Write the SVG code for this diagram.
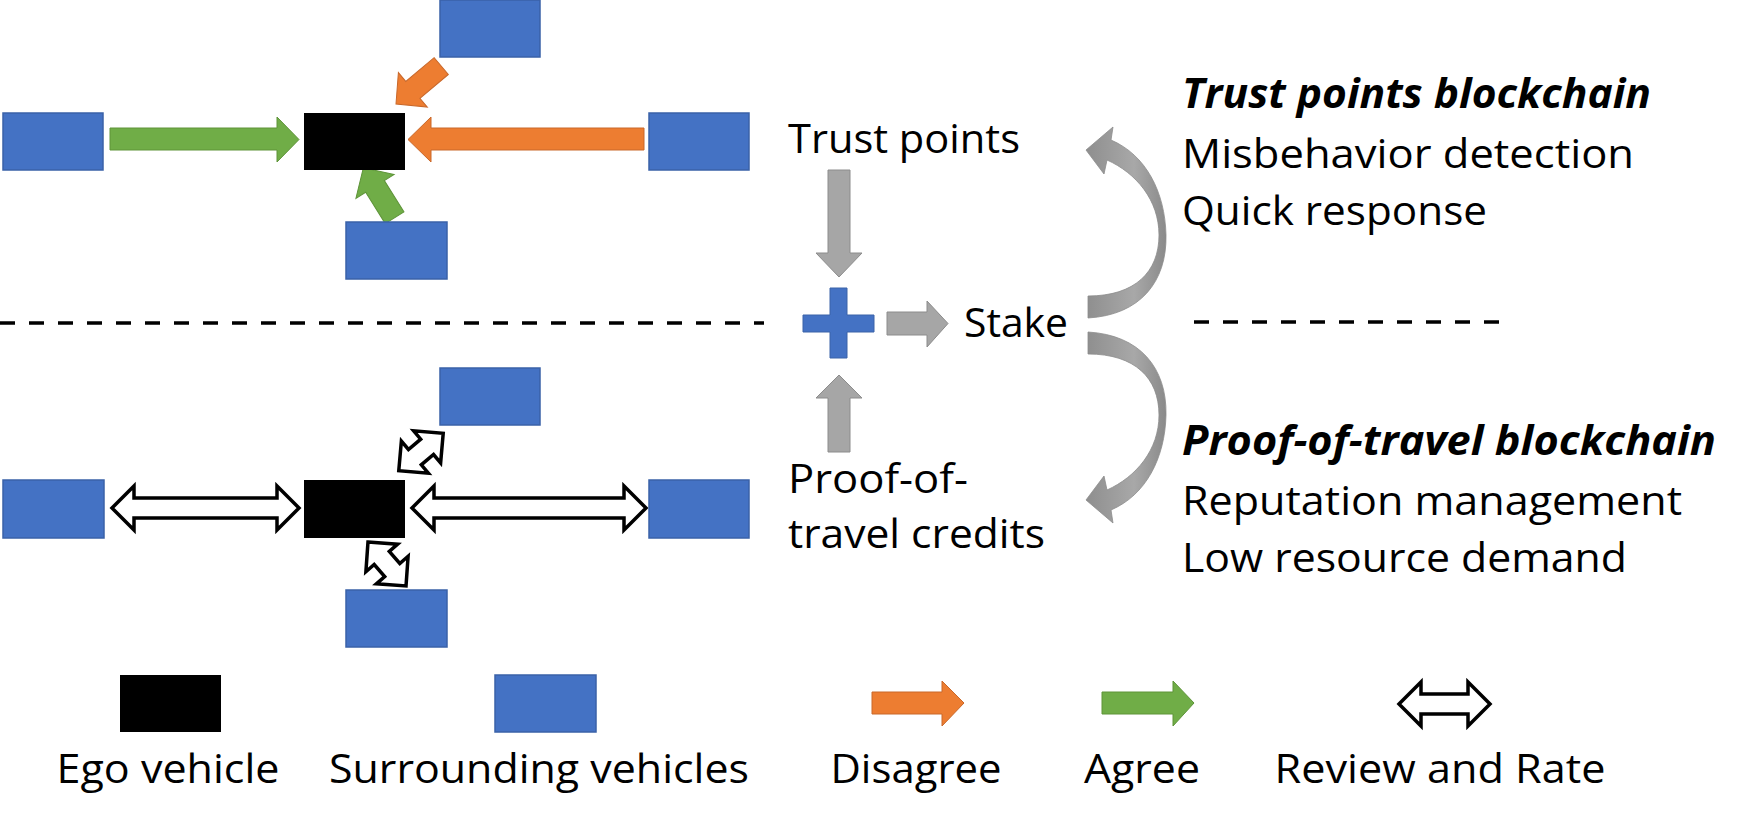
<svg xmlns="http://www.w3.org/2000/svg" width="1748" height="829" viewBox="0 0 1748 829">
<style>
  .veh{fill:#4472C4;stroke:#3A62A8;stroke-width:1.5}
  .ego{fill:#000000}
  .agree{fill:#70AD47;stroke:#5E9439;stroke-width:1}
  .disagree{fill:#ED7D31;stroke:#C9682A;stroke-width:1}
  .rate{fill:#FFFFFF;stroke:#000000;stroke-width:3.5;stroke-linejoin:miter}
  .gray{fill:#A6A6A6;stroke:#8C8C8C;stroke-width:1}
  .curve{fill:url(#cg);stroke:#8C8C8C;stroke-width:0.8}
  .plus{fill:#4472C4;stroke:#3A62A8;stroke-width:1}
  .dash{stroke:#000000;stroke-width:3.5;stroke-dasharray:15 14;fill:none}
  text{font-family:"Open Sans","Noto Sans",sans-serif;font-size:41px;fill:#000000}
  .bi{font-weight:bold;font-style:italic}
  .lg{text-anchor:middle}
</style>
<defs>
  <linearGradient id="cg" x1="0" y1="0" x2="1" y2="0">
    <stop offset="0" stop-color="#8E8E8E"/>
    <stop offset="0.6" stop-color="#A8A8A8"/>
    <stop offset="1" stop-color="#8A8A8A"/>
  </linearGradient>
  <path id="diag1" d="M-59,-11 H-22 V-22.5 L0,0 L-22,22.5 V11 H-59 Z"/>
  <path id="dbl" d="M-29,0 L-8,-21 V-10 H8 V-21 L29,0 L8,21 V10 H-8 V21 Z"/>
</defs>

<g id="connectors">
  <!-- top section: votes -->
  <polygon class="agree" points="110,128 277,128 277,117 299,139.5 277,162 277,150 110,150"/>
  <polygon class="disagree" points="644,128 431,128 431,117 408,139.5 431,162 431,150 644,150"/>
  <use href="#diag1" class="disagree" transform="translate(396,104) rotate(140)"/>
  <use href="#diag1" class="agree" transform="translate(366,172) rotate(-122) translate(5,0)"/>
  <!-- bottom section: review and rate -->
  <path class="rate" d="M112,508 L134,486 V498 H277 V486 L299,508 L277,530 V518 H134 V530 Z"/>
  <path class="rate" d="M412,508 L434,486 V498 H624 V486 L646,508 L624,530 V518 H434 V530 Z"/>
  <use href="#dbl" class="rate" transform="translate(421,452) rotate(-40)"/>
  <use href="#dbl" class="rate" transform="translate(387,564) rotate(49)"/>
  <!-- stake flow -->
  <polygon class="gray" points="828,170 850,170 850,253 862,253 839,277 816,253 828,253"/>
  <polygon class="gray" points="828,452 850,452 850,398 862,398 839,375 816,398 828,398"/>
  <polygon class="gray" points="887,312 927,312 927,301 948,323.5 927,347 927,335 887,335"/>
  <!-- curved arrows -->
  <path id="curveUp" class="curve" d="M1088,318 C1140,315 1167,282 1166,235 C1165,192 1146,155 1111,140 L1113,127 L1086,150 L1104,174 L1107,160 C1136,173 1159,200 1159,235 C1159,272 1135,296 1088,296 Z"/>
  <path id="curveDown" class="curve" transform="translate(0,650) scale(1,-1)" d="M1088,318 C1140,315 1167,282 1166,235 C1165,192 1146,155 1111,140 L1113,127 L1086,150 L1104,174 L1107,160 C1136,173 1159,200 1159,235 C1159,272 1135,296 1088,296 Z"/>
  <!-- separators -->
  <line class="dash" x1="0" y1="323" x2="764" y2="323"/>
  <line class="dash" x1="1194" y1="322" x2="1499" y2="322"/>
</g>

<g id="top-section">
  <rect id="top-left" class="veh" x="3" y="113" width="100" height="57"/>
  <rect id="top-ego" class="ego" x="304" y="113" width="101" height="57"/>
  <rect id="top-up" class="veh" x="440" y="0" width="100" height="57"/>
  <rect id="top-right" class="veh" x="649" y="113" width="100" height="57"/>
  <rect id="top-down" class="veh" x="346" y="222" width="101" height="57"/>
</g>

<g id="bottom-section">
  <rect id="bot-left" class="veh" x="3" y="480" width="101" height="58"/>
  <rect id="bot-ego" class="ego" x="304" y="480" width="101" height="58"/>
  <rect id="bot-up" class="veh" x="440" y="368" width="100" height="57"/>
  <rect id="bot-right" class="veh" x="649" y="480" width="100" height="58"/>
  <rect id="bot-down" class="veh" x="346" y="590" width="101" height="57"/>
</g>

<g id="stake">
  <path id="plus" class="plus" d="M830,288 H847 V315 H874 V332 H847 V358 H830 V332 H803 V315 H830 Z"/>
  <text id="t-trust" x="788" y="153" textLength="232" lengthAdjust="spacingAndGlyphs">Trust points</text>
  <text id="t-stake" x="964" y="337" textLength="104" lengthAdjust="spacingAndGlyphs">Stake</text>
  <text id="t-pot" x="788" y="493" textLength="180" lengthAdjust="spacingAndGlyphs">Proof-of-</text>
  <text x="788" y="548" textLength="257" lengthAdjust="spacingAndGlyphs">travel credits</text>
</g>

<g id="trust-chain">
  <text class="bi" x="1182" y="108" textLength="469" lengthAdjust="spacingAndGlyphs">Trust points blockchain</text>
  <text x="1182" y="168" textLength="452" lengthAdjust="spacingAndGlyphs">Misbehavior detection</text>
  <text x="1182" y="225" textLength="305" lengthAdjust="spacingAndGlyphs">Quick response</text>
</g>

<g id="pot-chain">
  <text class="bi" x="1182" y="455" textLength="534" lengthAdjust="spacingAndGlyphs">Proof-of-travel blockchain</text>
  <text x="1182" y="515" textLength="500" lengthAdjust="spacingAndGlyphs">Reputation management</text>
  <text x="1182" y="572" textLength="445" lengthAdjust="spacingAndGlyphs">Low resource demand</text>
</g>

<g id="legend">
  <g id="lg-ego"><rect class="ego" x="120" y="675" width="101" height="57"/><text class="lg" x="168" y="783" textLength="223" lengthAdjust="spacingAndGlyphs">Ego vehicle</text></g>
  <g id="lg-veh"><rect class="veh" x="495" y="675" width="101" height="57"/><text class="lg" x="539" y="783" textLength="420" lengthAdjust="spacingAndGlyphs">Surrounding vehicles</text></g>
  <g id="lg-dis"><polygon class="disagree" points="872,692 942,692 942,681 964,703 942,726 942,714 872,714"/><text class="lg" x="916" y="783" textLength="171" lengthAdjust="spacingAndGlyphs">Disagree</text></g>
  <g id="lg-agree"><polygon class="agree" points="1102,692 1173,692 1173,681 1194,703 1173,726 1173,714 1102,714"/><text class="lg" x="1142" y="783" textLength="116" lengthAdjust="spacingAndGlyphs">Agree</text></g>
  <g id="lg-rate"><path class="rate" d="M1399,704 L1421,682 V694 H1468 V682 L1490,704 L1468,726 V714 H1421 V726 Z"/><text class="lg" x="1440" y="783" textLength="331" lengthAdjust="spacingAndGlyphs">Review and Rate</text></g>
</g>
</svg>
